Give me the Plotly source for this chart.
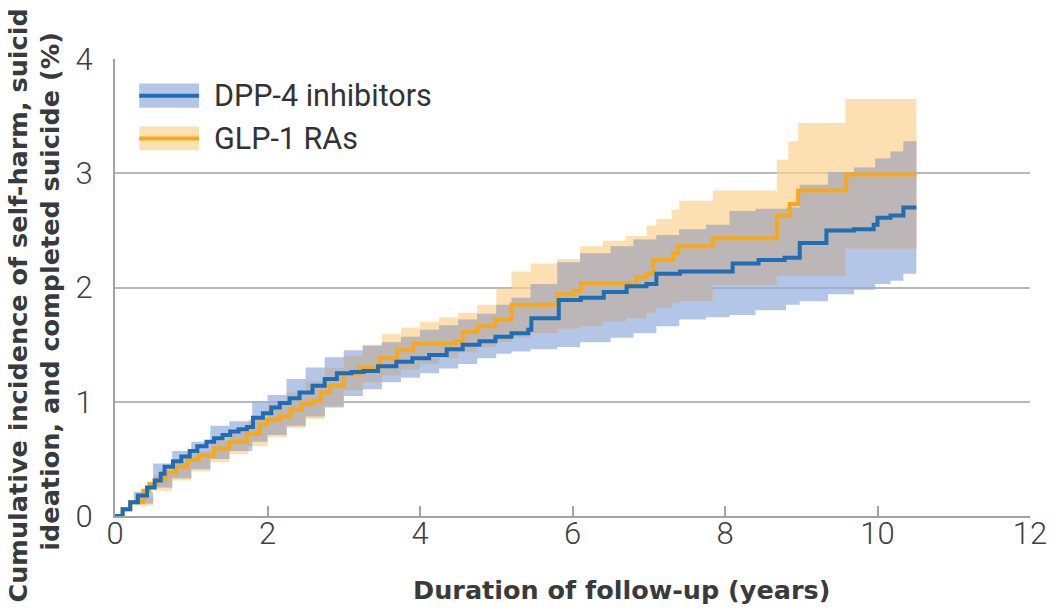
import numpy as np
import plotly.graph_objects as go

# ---------------- data ----------------
series_names = ["DPP-4 inhibitors", "GLP-1 RAs"]

# DPP-4 inhibitors: cumulative incidence (%) step curve
dpp_x = [0, 0.1, 0.2, 0.3, 0.42, 0.52, 0.6, 0.65, 0.76, 0.87, 0.98, 1.08, 1.2, 1.30, 1.41,
         1.51, 1.62, 1.73, 1.81, 1.94, 2.05, 2.16, 2.29, 2.42, 2.59, 2.75, 2.91, 3.1, 3.26,
         3.45, 3.69, 3.9, 4.12, 4.35, 4.56, 4.78, 4.99, 5.2, 5.42, 5.46, 5.82, 6.11, 6.41,
         6.71, 6.97, 7.10, 7.41, 8.10, 8.44, 8.78, 8.98, 9.33, 9.69, 9.95, 10.0, 10.17, 10.34,
         10.51]
dpp_y = [0, 0.06, 0.12, 0.18, 0.25, 0.31, 0.37, 0.43, 0.48, 0.52, 0.57, 0.61, 0.65, 0.68, 0.71,
         0.74, 0.76, 0.78, 0.86, 0.90, 0.95, 0.99, 1.03, 1.08, 1.14, 1.20, 1.25, 1.26, 1.27,
         1.31, 1.35, 1.38, 1.41, 1.46, 1.50, 1.53, 1.57, 1.60, 1.63, 1.73, 1.89, 1.91, 1.96,
         2.01, 2.03, 2.12, 2.14, 2.21, 2.24, 2.26, 2.39, 2.50, 2.51, 2.55, 2.61, 2.63, 2.70,
         2.70]

# GLP-1 RAs: cumulative incidence (%) step curve
glp_x = [0, 0.1, 0.2, 0.37, 0.45, 0.55, 0.67, 0.8, 0.95, 1.1, 1.3, 1.5, 1.73, 1.9, 2.0,
         2.16, 2.3, 2.45, 2.59, 2.7, 2.82, 3.0, 3.2, 3.47, 3.7, 3.91, 4.47, 4.56, 4.75, 4.99,
         5.2, 5.80, 6.02, 6.11, 6.84, 6.97, 7.06, 7.32, 7.38, 7.84, 8.68, 8.85, 8.96, 9.59,
         10.51]
glp_y = [0, 0.06, 0.12, 0.22, 0.28, 0.32, 0.38, 0.43, 0.49, 0.53, 0.59, 0.65, 0.72, 0.80, 0.84,
         0.87, 0.93, 0.98, 1.01, 1.08, 1.14, 1.24, 1.30, 1.38, 1.45, 1.51, 1.53, 1.61, 1.66, 1.72,
         1.85, 1.94, 1.97, 2.04, 2.09, 2.12, 2.24, 2.30, 2.36, 2.43, 2.63, 2.73, 2.85, 2.99,
         2.99]

# 95% confidence bands
dpp_ci_x = [0, 0.25, 0.5, 0.75, 1.0, 1.25, 1.5, 1.8, 2.0, 2.25, 2.5, 2.75, 3.0, 3.25, 3.5,
            3.75, 4.0, 4.25, 4.5, 4.75, 5.0, 5.2, 5.45, 5.8, 6.1, 6.5, 6.8, 7.1, 7.4, 7.75,
            8.06, 8.4, 8.8, 8.98, 9.35, 9.69, 9.97, 10.17, 10.34, 10.51]
dpp_lower = [0, 0.11, 0.25, 0.33, 0.41, 0.50, 0.57, 0.65, 0.71, 0.79, 0.87, 0.95, 1.05, 1.11, 1.17,
             1.21, 1.25, 1.29, 1.33, 1.38, 1.42, 1.44, 1.46, 1.48, 1.52, 1.56, 1.60, 1.66, 1.72, 1.74,
             1.76, 1.80, 1.85, 1.88, 1.94, 1.98, 2.03, 2.06, 2.12, 2.15]
dpp_upper = [0, 0.21, 0.46, 0.57, 0.65, 0.79, 0.83, 1.00, 1.06, 1.20, 1.30, 1.39, 1.45, 1.49, 1.52,
             1.57, 1.63, 1.67, 1.72, 1.77, 1.85, 1.91, 2.03, 2.22, 2.30, 2.36, 2.42, 2.46, 2.51, 2.55,
             2.67, 2.69, 2.70, 2.90, 3.01, 3.05, 3.13, 3.19, 3.28, 3.28]

glp_ci_x = [0, 0.25, 0.5, 0.75, 1.0, 1.25, 1.5, 1.75, 2.0, 2.25, 2.5, 2.75, 3.0, 3.25, 3.5,
            3.75, 4.0, 4.25, 4.5, 4.75, 5.0, 5.2, 5.45, 5.8, 6.1, 6.4, 6.7, 6.97, 7.1, 7.3,
            7.4, 7.84, 8.68, 8.83, 8.96, 9.58, 10.51]
glp_lower = [0, 0.09, 0.22, 0.31, 0.39, 0.47, 0.54, 0.61, 0.69, 0.77, 0.85, 0.96, 1.10, 1.17, 1.23,
             1.28, 1.33, 1.38, 1.43, 1.48, 1.52, 1.56, 1.60, 1.64, 1.66, 1.70, 1.73, 1.78, 1.82, 1.86,
             1.88, 2.02, 2.10, 2.10, 2.10, 2.34, 2.34]
glp_upper = [0, 0.17, 0.36, 0.48, 0.57, 0.66, 0.74, 0.85, 0.98, 1.08, 1.18, 1.30, 1.40, 1.50, 1.59,
             1.65, 1.70, 1.74, 1.78, 1.85, 1.99, 2.14, 2.21, 2.25, 2.36, 2.41, 2.45, 2.54, 2.60, 2.68,
             2.76, 2.85, 3.12, 3.28, 3.44, 3.65, 3.65]

x_ticks = [0, 2, 4, 6, 8, 10, 12]
y_ticks = [0, 1, 2, 3, 4]

# ---------------- styles ----------------
BLUE = "#1f6db4"
ORANGE = "#f6a91c"
BLUE_BAND = "rgba(148,174,222,0.7)"
ORANGE_BAND = "rgba(252,211,145,0.7)"
GREY_BAND = "rgba(172,172,186,0.72)"
AXIS = "#a3a3a3"
GRID = "#b8b8b8"
TEXT = "#3a3a3a"
TITLE_FONT = "DejaVu Sans"

# overlap of the two confidence bands (computed from the band arrays)
def step_eval(xs, vals, xq):
    xs = np.asarray(xs)
    vals = np.asarray(vals)
    idx = np.searchsorted(xs, xq, side="right") - 1
    return vals[np.clip(idx, 0, len(vals) - 1)]

x_end = min(dpp_ci_x[-1], glp_ci_x[-1])
ov_x = np.array(sorted(set(dpp_ci_x) | set(glp_ci_x)))
ov_x = ov_x[ov_x <= x_end]
ov_lo = np.maximum(step_eval(dpp_ci_x, dpp_lower, ov_x), step_eval(glp_ci_x, glp_lower, ov_x))
ov_hi = np.minimum(step_eval(dpp_ci_x, dpp_upper, ov_x), step_eval(glp_ci_x, glp_upper, ov_x))
ov_hi = np.maximum(ov_hi, ov_lo)

fig = go.Figure()

def band(xs, lo, hi, color):
    fig.add_trace(go.Scatter(x=xs, y=lo, mode="lines", line=dict(width=0, shape="hv"),
                             showlegend=False, hoverinfo="skip"))
    fig.add_trace(go.Scatter(x=xs, y=hi, mode="lines", line=dict(width=0, shape="hv"),
                             fill="tonexty", fillcolor=color, showlegend=False, hoverinfo="skip"))

band(dpp_ci_x, dpp_lower, dpp_upper, BLUE_BAND)
band(glp_ci_x, glp_lower, glp_upper, ORANGE_BAND)
band(ov_x, ov_lo, ov_hi, GREY_BAND)

fig.add_trace(go.Scatter(x=glp_x, y=glp_y, mode="lines", name=series_names[1],
                         line=dict(color=ORANGE, width=4, shape="hv"), showlegend=False))
fig.add_trace(go.Scatter(x=dpp_x, y=dpp_y, mode="lines", name=series_names[0],
                         line=dict(color=BLUE, width=4, shape="hv"), showlegend=False))

# ---------------- custom legend (band swatch + line, like the original) ----------------
legend_items = [(series_names[0], BLUE, BLUE_BAND, 0.9198, 0.0267),
                (series_names[1], ORANGE, ORANGE_BAND, 0.8263, 0.0260)]
shapes = []
annotations = []
for name, lc, bc, yc, hh in legend_items:
    shapes.append(dict(type="rect", xref="paper", yref="paper", x0=0.0265, x1=0.0919,
                       y0=yc - hh, y1=yc + hh, fillcolor=bc, line=dict(width=0), layer="above"))
    shapes.append(dict(type="line", xref="paper", yref="paper", x0=0.0265, x1=0.0919,
                       y0=yc, y1=yc, line=dict(color=lc, width=4), layer="above"))
    annotations.append(dict(text=name, xref="paper", yref="paper", x=0.106, y=yc,
                            xanchor="left", yanchor="middle", showarrow=False,
                            font=dict(family="Roboto", size=30.5, color="#333333")))

# axis titles
annotations.append(dict(text="Duration of follow-up (years)", xref="paper", yref="paper",
                        x=0.5535, y=-0.163, xanchor="center", yanchor="middle", showarrow=False,
                        font=dict(family=TITLE_FONT, size=25.5, color=TEXT, weight="bold")))
for line_text, xpos in [("Cumulative incidence of self-harm, suicidal", -0.1055),
                        ("ideation, and completed suicide (%)", -0.0715)]:
    annotations.append(dict(text=line_text, xref="paper", yref="paper", x=xpos, y=0.49,
                            xanchor="center", yanchor="middle", textangle=-90, showarrow=False,
                            font=dict(family=TITLE_FONT, size=25.5, color=TEXT, weight="bold")))

# page body has an 8px margin: size and margins compensate so the plot area sits where it should
fig.update_layout(
    width=1051, height=605,
    margin=dict(l=107, r=19, t=51, b=97),
    paper_bgcolor="white", plot_bgcolor="white",
    showlegend=False,
    shapes=shapes, annotations=annotations,
)
fig.update_xaxes(range=[0, 12], tickvals=x_ticks, ticks="inside", ticklen=10, tickwidth=2,
                 tickcolor=AXIS, showline=True, linecolor=AXIS, linewidth=2, showgrid=False,
                 zeroline=False, ticklabelstandoff=-11,
                 tickfont=dict(family="Roboto", size=31, color="#404040", weight=300))
fig.update_yaxes(range=[0, 4], tickvals=y_ticks, ticks="", showline=True, linecolor=AXIS,
                 linewidth=2, showgrid=True, gridcolor=GRID, gridwidth=2, zeroline=False,
                 ticklabelstandoff=14,
                 tickfont=dict(family="Roboto", size=31, color="#404040", weight=300))

fig.write_html("out.html")
